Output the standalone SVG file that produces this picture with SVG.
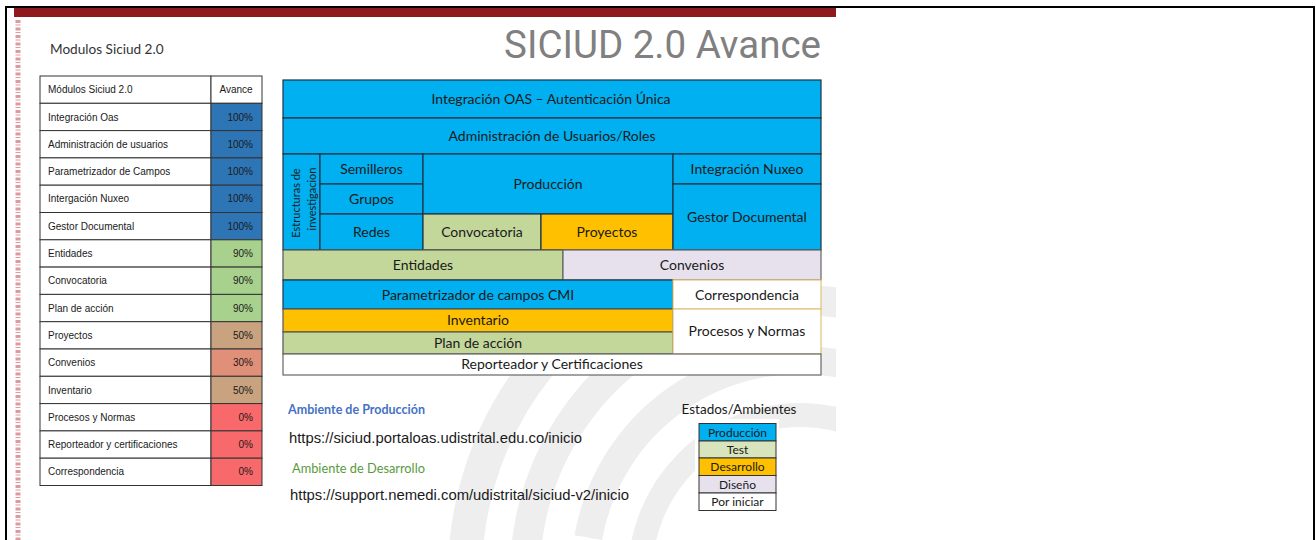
<svg xmlns="http://www.w3.org/2000/svg" width="1316" height="540" viewBox="0 0 1316 540">
<style>
.tb{font-family:"Liberation Sans",Arial,sans-serif;font-size:10px;fill:#1a1a1a}
.tr{font-family:"Liberation Sans",Arial,sans-serif;font-size:10px;fill:#1a1a1a;text-anchor:end}
.cell{stroke:#333;stroke-width:1}
.bx{stroke:#1f3447;stroke-width:1.2}
.bl{font-family:Lato,"Open Sans",sans-serif;font-size:14px;fill:#1a1a1a;text-anchor:middle}
.lg{font-family:Lato,"Open Sans",sans-serif;font-size:12px;fill:#1a1a1a;text-anchor:middle}
.url{font-family:"Liberation Sans",Arial,sans-serif;font-size:14.6px;fill:#1a1a1a}
</style>
<defs>
<clipPath id="slide"><rect x="14" y="17" width="822" height="523"/></clipPath>
</defs>
<rect width="1316" height="540" fill="#fff"/>
<rect x="6" y="7" width="1308" height="545" fill="none" stroke="#000" stroke-width="2"/>
<g id="watermark" clip-path="url(#slide)" fill="none" stroke="#eeeeee">
<circle cx="800" cy="575" r="335" stroke-width="34" stroke-dasharray="700 400" transform="rotate(150 800 575)"/>
<circle cx="800" cy="575" r="275" stroke-width="30" stroke-dasharray="650 300" transform="rotate(170 800 575)"/>
<circle cx="800" cy="575" r="215" stroke-width="28" stroke-dasharray="500 250" transform="rotate(190 800 575)"/>
<circle cx="800" cy="575" r="160" stroke-width="24"/>
</g>
<rect x="14" y="8" width="822" height="9" fill="#8f1a1d"/>
<line x1="18" y1="20" x2="18" y2="540" stroke="#d47a80" stroke-width="5" stroke-dasharray="3 1.5 1 2" opacity="0.75"/>
<text x="821" y="58" font-family="Roboto,'Liberation Sans',sans-serif" font-size="38.5" fill="#808080" text-anchor="end">SICIUD 2.0 Avance</text>
<text x="50" y="54" font-family="Lato,'Open Sans',sans-serif" font-size="13.6" fill="#333">Modulos Siciud 2.0</text>

<g id="tabla">
<rect class="cell" x="40" y="76" width="171" height="27.3" fill="#fff"/>
<rect class="cell" x="211" y="76" width="51" height="27.3" fill="#fff"/>
<text class="tb" x="48" y="93">Módulos Siciud 2.0</text>
<text class="tb" x="236" y="93" text-anchor="middle">Avance</text>
<g id="r1"><rect class="cell" x="40" y="103.3" width="171" height="27.3" fill="#fff"/><rect class="cell" x="211" y="103.3" width="51" height="27.3" fill="#2e75b6"/><text class="tb" x="48" y="120.5">Integración Oas</text><text class="tr" x="253" y="120.5">100%</text></g>
<g id="r2"><rect class="cell" x="40" y="130.6" width="171" height="27.3" fill="#fff"/><rect class="cell" x="211" y="130.6" width="51" height="27.3" fill="#2e75b6"/><text class="tb" x="48" y="147.8">Administración de usuarios</text><text class="tr" x="253" y="147.8">100%</text></g>
<g id="r3"><rect class="cell" x="40" y="157.9" width="171" height="27.3" fill="#fff"/><rect class="cell" x="211" y="157.9" width="51" height="27.3" fill="#2e75b6"/><text class="tb" x="48" y="175.1">Parametrizador de Campos</text><text class="tr" x="253" y="175.1">100%</text></g>
<g id="r4"><rect class="cell" x="40" y="185.2" width="171" height="27.3" fill="#fff"/><rect class="cell" x="211" y="185.2" width="51" height="27.3" fill="#2e75b6"/><text class="tb" x="48" y="202.4">Intergación Nuxeo</text><text class="tr" x="253" y="202.4">100%</text></g>
<g id="r5"><rect class="cell" x="40" y="212.5" width="171" height="27.3" fill="#fff"/><rect class="cell" x="211" y="212.5" width="51" height="27.3" fill="#2e75b6"/><text class="tb" x="48" y="229.7">Gestor Documental</text><text class="tr" x="253" y="229.7">100%</text></g>
<g id="r6"><rect class="cell" x="40" y="239.8" width="171" height="27.3" fill="#fff"/><rect class="cell" x="211" y="239.8" width="51" height="27.3" fill="#a9d18e"/><text class="tb" x="48" y="257">Entidades</text><text class="tr" x="253" y="257">90%</text></g>
<g id="r7"><rect class="cell" x="40" y="267.1" width="171" height="27.3" fill="#fff"/><rect class="cell" x="211" y="267.1" width="51" height="27.3" fill="#a9d18e"/><text class="tb" x="48" y="284.3">Convocatoria</text><text class="tr" x="253" y="284.3">90%</text></g>
<g id="r8"><rect class="cell" x="40" y="294.4" width="171" height="27.3" fill="#fff"/><rect class="cell" x="211" y="294.4" width="51" height="27.3" fill="#a9d18e"/><text class="tb" x="48" y="311.6">Plan de acción</text><text class="tr" x="253" y="311.6">90%</text></g>
<g id="r9"><rect class="cell" x="40" y="321.7" width="171" height="27.3" fill="#fff"/><rect class="cell" x="211" y="321.7" width="51" height="27.3" fill="#c9a37f"/><text class="tb" x="48" y="338.9">Proyectos</text><text class="tr" x="253" y="338.9">50%</text></g>
<g id="r10"><rect class="cell" x="40" y="349" width="171" height="27.3" fill="#fff"/><rect class="cell" x="211" y="349" width="51" height="27.3" fill="#e08f78"/><text class="tb" x="48" y="366.2">Convenios</text><text class="tr" x="253" y="366.2">30%</text></g>
<g id="r11"><rect class="cell" x="40" y="376.3" width="171" height="27.3" fill="#fff"/><rect class="cell" x="211" y="376.3" width="51" height="27.3" fill="#c9a37f"/><text class="tb" x="48" y="393.5">Inventario</text><text class="tr" x="253" y="393.5">50%</text></g>
<g id="r12"><rect class="cell" x="40" y="403.6" width="171" height="27.3" fill="#fff"/><rect class="cell" x="211" y="403.6" width="51" height="27.3" fill="#f8696b"/><text class="tb" x="48" y="420.8">Procesos y Normas</text><text class="tr" x="253" y="420.8">0%</text></g>
<g id="r13"><rect class="cell" x="40" y="430.9" width="171" height="27.3" fill="#fff"/><rect class="cell" x="211" y="430.9" width="51" height="27.3" fill="#f8696b"/><text class="tb" x="48" y="448.1">Reporteador y certificaciones</text><text class="tr" x="253" y="448.1">0%</text></g>
<g id="r14"><rect class="cell" x="40" y="458.2" width="171" height="27.3" fill="#fff"/><rect class="cell" x="211" y="458.2" width="51" height="27.3" fill="#f8696b"/><text class="tb" x="48" y="475.4">Correspondencia</text><text class="tr" x="253" y="475.4">0%</text></g>
</g>

<g id="bloque">
<rect x="283" y="80" width="538" height="295" fill="#fff"/>
<g id="oas"><rect class="bx" x="283" y="80" width="538" height="38" fill="#00b0f0"/><text class="bl" x="551" y="104">Integración OAS – Autenticación Única</text></g>
<g id="usuarios"><rect class="bx" x="283" y="118" width="538" height="36" fill="#00b0f0"/><text class="bl" x="552" y="141">Administración de Usuarios/Roles</text></g>
<g id="estructuras"><rect class="bx" x="283" y="154" width="37" height="96" fill="#00b0f0"/>
<text font-family="Lato,'Open Sans',sans-serif" font-size="11" fill="#1a1a1a" text-anchor="middle" transform="translate(300,203) rotate(-90)">Estructuras de</text>
<text font-family="Lato,'Open Sans',sans-serif" font-size="11" fill="#1a1a1a" text-anchor="middle" transform="translate(316,199) rotate(-90)">investigacion</text></g>
<g id="semilleros"><rect class="bx" x="320" y="154" width="103" height="30" fill="#00b0f0"/><text class="bl" x="371.5" y="174">Semilleros</text></g>
<g id="grupos"><rect class="bx" x="320" y="184" width="103" height="30" fill="#00b0f0"/><text class="bl" x="371.5" y="204">Grupos</text></g>
<g id="redes"><rect class="bx" x="320" y="214" width="103" height="36" fill="#00b0f0"/><text class="bl" x="371.5" y="237">Redes</text></g>
<g id="produccion"><rect class="bx" x="423" y="154" width="250" height="60" fill="#00b0f0"/><text class="bl" x="548" y="189">Producción</text></g>
<g id="convocatoria"><rect class="bx" x="423" y="214" width="118" height="36" fill="#c4d79b"/><text class="bl" x="482" y="237">Convocatoria</text></g>
<g id="proyectos"><rect class="bx" x="541" y="214" width="132" height="36" fill="#ffc000"/><text class="bl" x="607" y="237">Proyectos</text></g>
<g id="nuxeo"><rect class="bx" x="673" y="154" width="148" height="30" fill="#00b0f0"/><text class="bl" x="747" y="174">Integración Nuxeo</text></g>
<g id="gestor"><rect class="bx" x="673" y="184" width="148" height="66" fill="#00b0f0"/><text class="bl" x="747" y="222">Gestor Documental</text></g>
<g id="entidades"><rect x="283" y="250" width="280" height="30" fill="#c4d79b" stroke="#555" stroke-width="1.2"/><text class="bl" x="423" y="270">Entidades</text></g>
<g id="convenios"><rect x="563" y="250" width="258" height="30" fill="#e6e1ec" stroke="#666" stroke-width="1.2"/><text class="bl" x="692" y="270">Convenios</text></g>
<g id="parametrizador"><rect class="bx" x="283" y="280" width="390" height="29" fill="#00b0f0"/><text class="bl" x="478" y="299.5">Parametrizador de campos CMI</text></g>
<g id="correspondencia"><rect x="673" y="280" width="148" height="29" fill="#fff" stroke="#e2c27a" stroke-width="1.2"/><text class="bl" x="747" y="299.5">Correspondencia</text></g>
<g id="inventario"><rect x="283" y="309" width="390" height="23" fill="#ffc000" stroke="#555" stroke-width="1.2"/><text class="bl" x="478" y="325">Inventario</text></g>
<g id="plan"><rect x="283" y="332" width="390" height="22" fill="#c4d79b" stroke="#555" stroke-width="1.2"/><text class="bl" x="478" y="347.5">Plan de acción</text></g>
<g id="procesos"><rect x="673" y="309" width="148" height="45" fill="#fff" stroke="#e2c27a" stroke-width="1.2"/><text class="bl" x="747" y="336">Procesos y Normas</text></g>
<g id="reporteador"><rect x="283" y="354" width="538" height="21" fill="#fff" stroke="#666" stroke-width="1.2"/><text class="bl" x="552" y="369">Reporteador y Certificaciones</text></g>
</g>

<g id="ambientes">
<text x="288" y="414" font-family="Lato,'Open Sans',sans-serif" font-size="12.5" font-weight="bold" fill="#4472c4">Ambiente de Producción</text>
<text class="url" x="289" y="443" textLength="293" lengthAdjust="spacingAndGlyphs">https://siciud.portaloas.udistrital.edu.co/inicio</text>
<text x="292" y="473" font-family="Lato,'Open Sans',sans-serif" font-size="12.8" fill="#5a9a3c">Ambiente de Desarrollo</text>
<text class="url" x="290" y="500" textLength="339" lengthAdjust="spacingAndGlyphs">https://support.nemedi.com/udistrital/siciud-v2/inicio</text>
</g>

<g id="leyenda">
<text x="739" y="414" font-family="Lato,'Open Sans',sans-serif" font-size="13.5" fill="#1a1a1a" text-anchor="middle">Estados/Ambientes</text>
<rect x="695" y="419" width="84" height="96" fill="#fff"/>
<g id="l1"><rect class="cell" x="699" y="423.5" width="77" height="17.5" fill="#00b0f0"/><text class="lg" x="737.5" y="436.5">Producción</text></g>
<g id="l2"><rect class="cell" x="699" y="441" width="77" height="17" fill="#d8e4bc"/><text class="lg" x="737.5" y="453.5">Test</text></g>
<g id="l3"><rect class="cell" x="699" y="458" width="77" height="17.5" fill="#ffc000"/><text class="lg" x="737.5" y="471">Desarrollo</text></g>
<g id="l4"><rect class="cell" x="699" y="475.5" width="77" height="17.5" fill="#e6e1ec"/><text class="lg" x="737.5" y="488.5">Diseño</text></g>
<g id="l5"><rect class="cell" x="699" y="493" width="77" height="17.5" fill="#fff"/><text class="lg" x="737.5" y="506">Por iniciar</text></g>
</g>
</svg>
